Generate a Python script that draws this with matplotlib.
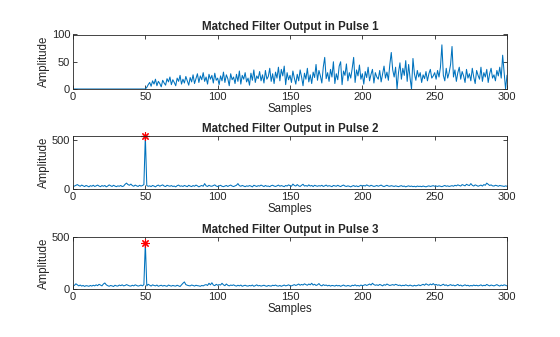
import numpy as np
import matplotlib
matplotlib.use("Agg")
import matplotlib.pyplot as plt

plt.rcParams['font.family'] = ['Liberation Sans', 'DejaVu Sans']

samples = np.arange(1, 301)

pulse1 = [0] * 50 + [
    3, 8, 12, 5, 15, 9, 18, 6, 14, 10,
    4, 16, 11, 7, 19, 13, 22, 8, 17, 12,
    6, 20, 14, 25, 9, 18, 11, 23, 15, 7,
    21, 13, 26, 10, 19, 28, 12, 24, 17, 30,
    14, 22, 9, 27, 18, 25, 11, 29, 16, 20,
    8, 24, 15, 31, 12, 26, 19, 6, 28, 17,
    22, 10, 27, 14, 33, 9, 25, 18, 30, 13,
    20, 7, 29, 16, 35, 12, 24, 19, 32, 15,
    26, 11, 34, 18, 23, 38, 14, 28, 10, 31,
    20, 40, 15, 36, 24, 42, 8, 30, 17, 25,
    12, 33, 20, 9, 27, 15, 35, 22, 6, 29,
    18, 38, 13, 26, 10, 31, 21, 45, 16, 34,
    24, 11, 40, 58, 19, 30, 14, 36, 22, 50,
    10, 28, 17, 42, 50, 8, 33, 25, 46, 15,
    30, 20, 38, 58, 12, 35, 24, 44, 18, 28,
    9, 32, 21, 40, 15, 27, 36, 11, 30, 22,
    18, 34, 13, 28, 42, 20, 31, 16, 45, 67,
    35, 22, 40, 0, 30, 48, 18, 38, 25, 52,
    14, 45, 20, 0, 56, 28, 16, 34, 22, 30,
    12, 26, 19, 32, 15, 28, 36, 20, 24, 30,
    18, 34, 22, 40, 81, 25, 15, 38, 20, 30,
    45, 78, 22, 35, 14, 30, 40, 18, 32, 24,
    12, 36, 20, 28, 15, 38, 22, 10, 34, 25,
    18, 40, 14, 30, 22, 36, 12, 28, 38, 20,
    26, 15, 34, 24, 40, 20, 62, 30, 0, 25,
]

pulse2 = [
    30, 38, 45, 35, 28, 40, 32, 25, 36, 30,
    22, 34, 28, 38, 26, 32, 40, 30, 24, 35,
    28, 36, 22, 30, 42, 33, 26, 38, 30, 24,
    32, 28, 36, 25, 30, 48, 60, 45, 38, 50,
    35, 28, 40, 32, 26, 38, 30, 35, 45, 541,
    35, 28, 32, 25, 36, 30, 22, 34, 40, 28,
    36, 42, 30, 25, 38, 32, 28, 35, 26, 30,
    22, 34, 40, 28, 32, 26, 36, 30, 24, 38,
    30, 25, 35, 28, 40, 32, 22, 30, 36, 28,
    55, 32, 26, 38, 30, 28, 35, 42, 30, 25,
    32, 38, 28, 24, 30, 36, 26, 34, 40, 30,
    25, 32, 38, 55, 34, 28, 36, 30, 24, 32,
    28, 35, 30, 22, 38, 32, 26, 34, 30, 40,
    32, 25, 36, 28, 30, 24, 34, 38, 30, 26,
    32, 40, 28, 35, 30, 24, 36, 30, 42, 34,
    28, 50, 36, 30, 45, 32, 26, 38, 48, 30,
    35, 28, 42, 30, 36, 25, 38, 32, 28, 34,
    30, 38, 26, 32, 40, 28, 34, 30, 24, 36,
    32, 28, 38, 30, 25, 34, 40, 30, 26, 32,
    28, 22, 30, 35, 26, 32, 24, 30, 38, 28,
    36, 30, 42, 34, 28, 38, 32, 26, 30, 36,
    28, 34, 40, 30, 25, 32, 38, 30, 28, 34,
    30, 26, 32, 28, 24, 30, 34, 26, 30, 22,
    28, 32, 26, 30, 24, 28, 22, 30, 26, 28,
    24, 30, 26, 22, 28, 32, 26, 30, 34, 28,
    30, 26, 32, 28, 24, 30, 36, 28, 32, 26,
    30, 34, 28, 38, 32, 42, 36, 30, 45, 38,
    32, 48, 40, 35, 55, 38, 30, 42, 36, 28,
    34, 40, 30, 45, 38, 60, 48, 36, 42, 32,
    30, 38, 34, 28, 36, 32, 30, 26, 32, 28,
]

pulse3 = [
    35, 50, 40, 30, 38, 28, 34, 25, 32, 30,
    26, 34, 28, 36, 30, 40, 32, 45, 38, 30,
    48, 58, 40, 32, 26, 34, 30, 24, 36, 30,
    28, 38, 32, 40, 30, 34, 42, 36, 30, 28,
    36, 30, 40, 34, 28, 32, 38, 30, 42, 442,
    30, 45, 36, 28, 40, 34, 30, 38, 26, 32,
    36, 28, 34, 30, 26, 38, 32, 28, 34, 30,
    28, 36, 30, 24, 40, 55, 68, 42, 36, 32,
    30, 38, 34, 28, 36, 32, 30, 26, 34, 30,
    38, 42, 34, 55, 40, 60, 38, 32, 45, 36,
    42, 38, 55, 40, 32, 48, 36, 30, 38, 34,
    40, 32, 28, 36, 30, 38, 26, 32, 36, 30,
    28, 34, 30, 38, 26, 32, 40, 30, 34, 28,
    32, 36, 30, 26, 34, 30, 28, 36, 32, 38,
    30, 28, 34, 26, 32, 38, 30, 34, 40, 32,
    30, 36, 42, 34, 40, 48, 36, 44, 38, 50,
    42, 36, 48, 40, 55, 38, 46, 34, 40, 52,
    36, 30, 42, 34, 38, 30, 36, 28, 34, 32,
    28, 36, 30, 34, 26, 32, 38, 30, 28, 34,
    30, 26, 36, 32, 40, 30, 34, 28, 38, 32,
    36, 42, 34, 40, 48, 38, 55, 42, 36, 40,
    34, 44, 38, 30, 42, 36, 48, 40, 34, 38,
    42, 36, 45, 40, 34, 38, 30, 36, 32, 40,
    34, 30, 38, 32, 28, 36, 30, 34, 40, 32,
    38, 45, 36, 50, 42, 36, 48, 40, 52, 38,
    44, 36, 40, 32, 38, 46, 34, 40, 30, 36,
    42, 34, 38, 30, 36, 44, 32, 38, 28, 34,
    40, 32, 36, 28, 34, 30, 38, 32, 36, 30,
    34, 40, 30, 36, 32, 44, 36, 30, 38, 34,
    30, 36, 42, 34, 28, 38, 32, 40, 36, 30,
]

titles = ['Matched Filter Output in Pulse 1',
          'Matched Filter Output in Pulse 2',
          'Matched Filter Output in Pulse 3']
xticks = [0, 50, 100, 150, 200, 250, 300]
yticks_list = [[0, 50, 100], [0, 500], [0, 500]]
ylims = [(0, 100), (0, 541), (0, 500)]
peak_idx = [None, 50, 50]
series = [pulse1, pulse2, pulse3]

W, H = 560, 337
fig = plt.figure(figsize=(W / 100, H / 100), dpi=100)
# axes boxes in pixels: (left, top, right, bottom)
boxes = [(73, 34.5, 507, 89), (73, 136, 507, 189), (73, 237, 507, 289)]

txt = '#262626'
for i, (l, t, r, b) in enumerate(boxes):
    ax = fig.add_axes([l / W, 1 - b / H, (r - l) / W, (b - t) / H])
    y = np.array(series[i])
    ax.plot(samples, y, color='#0072BD', lw=0.75)
    if peak_idx[i] is not None:
        k = peak_idx[i]
        ax.plot([samples[k - 1]], [y[k - 1]], marker=(8, 2, 0), color='red',
                markersize=6, mew=0.8, ls='none', clip_on=False)
    ax.set_xlim(0, 300)
    ax.set_ylim(*ylims[i])
    ax.set_xticks(xticks)
    ax.set_yticks(yticks_list[i])
    ax.tick_params(direction='in', top=True, right=True, length=3, width=0.6,
                   labelsize=8, colors=txt, pad=2)
    for s in ax.spines.values():
        s.set_linewidth(0.6)
        s.set_color(txt)
    ax.set_title(titles[i], fontsize=8.3, fontweight='bold', color=txt, pad=3)
    ax.set_xlabel('Samples', fontsize=8.3, color=txt, labelpad=1)
    ax.set_ylabel('Amplitude', fontsize=8.3, color=txt, labelpad=1)

fig.savefig('out.png', dpi=100)
